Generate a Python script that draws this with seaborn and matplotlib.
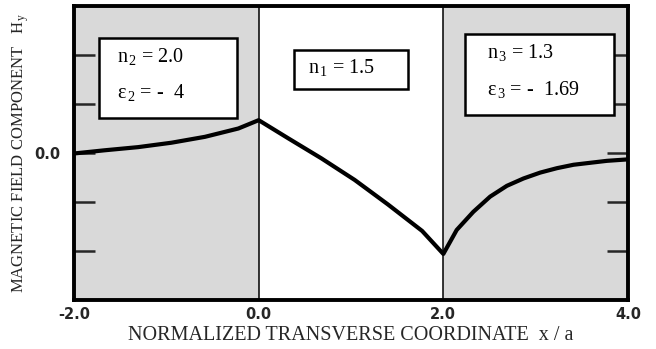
import matplotlib
matplotlib.use("Agg")
import matplotlib.pyplot as plt
import seaborn as sns
import pandas as pd
from matplotlib.patches import Rectangle

# H_y profile across the three-layer structure (cladding 2 | core 1 | cladding 3)
x_clad2 = [-2.0, -1.67, -1.305, -0.944, -0.582, -0.22, 0.0]
hy_clad2 = [-0.01, 0.055, 0.12, 0.21, 0.33, 0.50, 0.67]

x_core = [0.0, 0.32, 0.68, 1.04, 1.40, 1.77, 2.0]
hy_core = [0.67, 0.30, -0.11, -0.55, -1.05, -1.59, -2.06]

x_clad3 = [2.0, 2.145, 2.325, 2.507, 2.688, 2.868, 3.049, 3.23, 3.41, 3.59, 3.772, 4.0]
hy_clad3 = [-2.06, -1.57, -1.20, -0.89, -0.67, -0.52, -0.40, -0.31, -0.24, -0.20, -0.16, -0.13]

x_ticks = [-2.0, 0.0, 2.0, 4.0]
x_ticklabels = ["-2.0", "0.0", "2.0", "4.0"]
y_ticks = [-2, -1, 0, 1, 2]
y_ticklabels = ["", "", "0.0", "", ""]

df = pd.DataFrame({
    "x": x_clad2 + x_core[1:] + x_clad3[1:],
    "hy": hy_clad2 + hy_core[1:] + hy_clad3[1:],
})

sns.set_theme(style="white")
plt.rcParams["font.family"] = ["Liberation Serif", "DejaVu Serif"]
plt.rcParams["mathtext.fontset"] = "custom"
plt.rcParams["mathtext.rm"] = "Liberation Serif"
plt.rcParams["mathtext.it"] = "Liberation Serif:italic"

fig = plt.figure(figsize=(6.56, 3.49), dpi=100)
ax = fig.add_axes([74 / 656, 49 / 349, 554 / 656, 294 / 349])

shade = "#d9d9d9"
ax.axvspan(-2.0, 0.0, color=shade, zorder=0, lw=0)
ax.axvspan(2.0, 4.0, color=shade, zorder=0, lw=0)
ax.axvline(0.0, color="black", lw=1.1, zorder=1)
ax.axvline(2.0, color="black", lw=1.1, zorder=1)

sns.lineplot(data=df, x="x", y="hy", sort=False, estimator=None,
             color="black", lw=3.0, ax=ax, zorder=3)

ax.set_xlim(-2.0, 4.0)
ax.set_ylim(-3.0, 3.0)

# Region annotation boxes
boxes = [(-1.728, 0.707, 1.489, 1.636), (0.380, 1.313, 1.240, 0.788), (2.239, 0.768, 1.609, 1.656)]
for bx, by, bw, bh in boxes:
    ax.add_patch(Rectangle((bx, by), bw, bh, facecolor="white", edgecolor="black",
                           lw=1.8, zorder=4))

tkw = dict(fontsize=14.5, color="black", zorder=5, va="baseline")
ax.text(-1.53, 1.86, r"n$_{\,2}$ = 2.0", **tkw)
ax.text(-1.53, 1.12, "ε" + r"$_{\,2}$ = -  4", **tkw)
ax.text(0.53, 1.63, r"n$_{\,1}$ = 1.5", **tkw)
ax.text(2.47, 1.94, r"n$_{\,3}$ = 1.3", **tkw)
ax.text(2.47, 1.18, "ε" + r"$_{\,3}$ = -  1.69", **tkw)

ax.set_xticks(x_ticks)
ax.set_xticklabels(x_ticklabels, family="DejaVu Sans", weight="bold", fontsize=10.5)
ax.set_yticks(y_ticks)
ax.set_yticklabels(y_ticklabels, family="DejaVu Sans", weight="bold", fontsize=10.5)
ax.tick_params(axis="x", length=0, pad=5)
ax.tick_params(axis="y", direction="in", length=15, width=1.8, left=True, right=True, pad=10)

for sp in ax.spines.values():
    sp.set_linewidth(2.8)
    sp.set_color("black")
    sp.set_zorder(6)

ax.set_xlabel("NORMALIZED TRANSVERSE COORDINATE  x / a", fontsize=14.5, labelpad=3)
ax.set_ylabel(r"MAGNETIC FIELD COMPONENT   H$_{\,\rm y}$", fontsize=12)
ax.yaxis.set_label_coords(-0.077, 0.5)

fig.savefig("out.png", dpi=100)
